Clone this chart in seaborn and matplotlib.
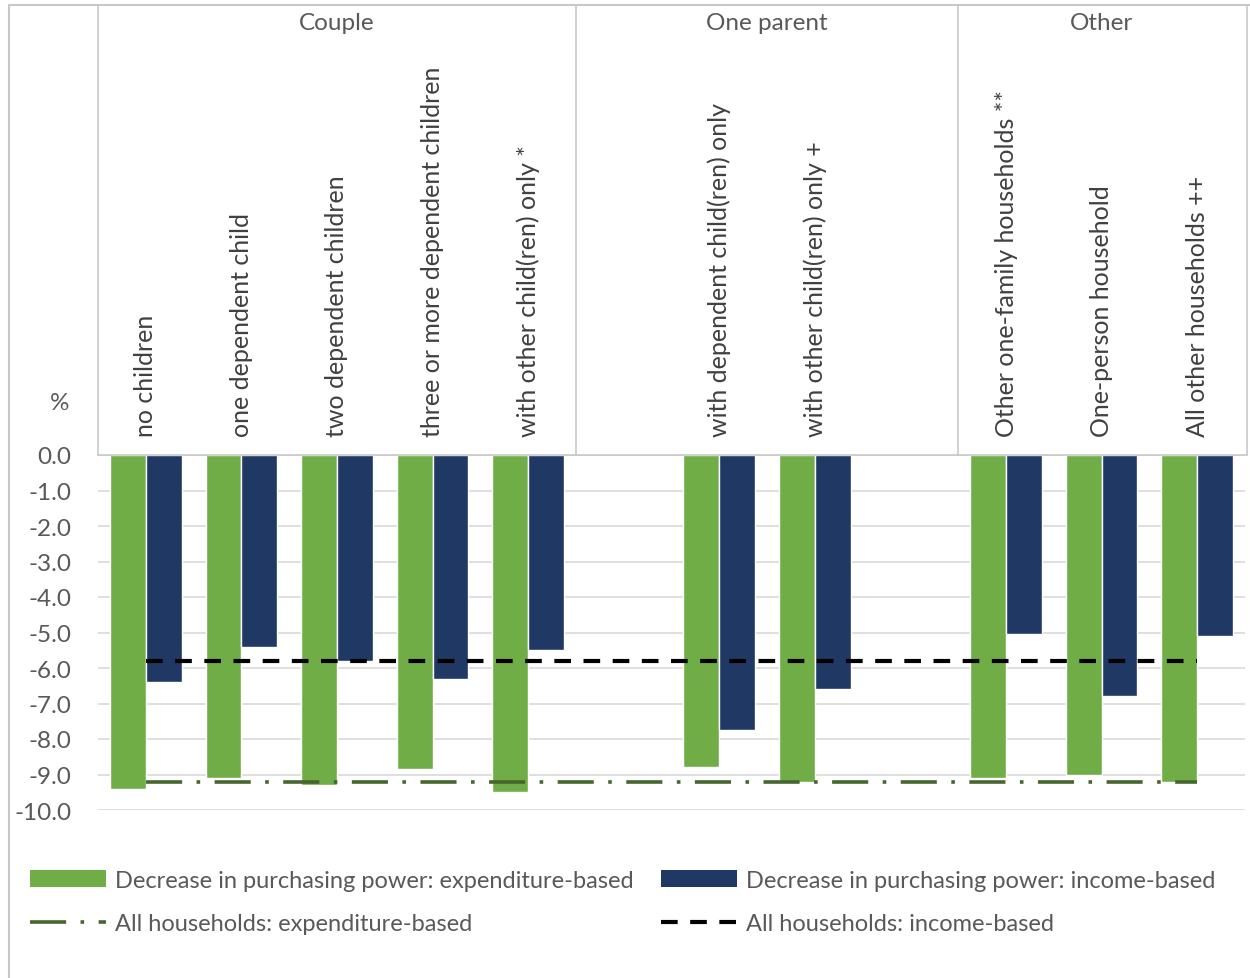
import numpy as np
import pandas as pd
import matplotlib
matplotlib.use("Agg")
import matplotlib.pyplot as plt
import seaborn as sns
from matplotlib.patches import Patch
from matplotlib.lines import Line2D
from matplotlib.transforms import blended_transform_factory

# ---- data -------------------------------------------------------------
categories = [
    "no children", "one dependent child", "two dependent children",
    "three or more dependent children", "with other child(ren) only *",
    "with dependent child(ren) only", "with other child(ren) only +",
    "Other one-family households **", "One-person household",
    "All other households ++",
]
groups = ["Couple"] * 5 + ["One parent"] * 2 + ["Other"] * 3
expenditure_based = [-9.4, -9.1, -9.3, -8.85, -9.5, -8.8, -9.2, -9.1, -9.0, -9.2]
income_based = [-6.4, -5.4, -5.8, -6.3, -5.5, -7.75, -6.6, -5.05, -6.8, -5.1]
all_households_expenditure = -9.2
all_households_income = -5.8

label_exp = "Decrease in purchasing power: expenditure-based"
label_inc = "Decrease in purchasing power: income-based"
label_all_exp = "All households: expenditure-based"
label_all_inc = "All households: income-based"

GREEN = "#70ad47"
NAVY = "#203864"
DARK_GREEN = "#46662f"
GRID = "#d9d9d9"
FRAME = "#c8c8c8"
TICK = "#595959"
TEXT = "#404040"

# slot order: blank spacers separate the household groups
order = categories[:5] + [" "] + categories[5:7] + ["  "] + categories[7:]
group_spans = [("Couple", -0.5, 4.5), ("One parent", 4.5, 8.5), ("Other", 8.5, 11.5)]

df = pd.DataFrame({
    "category": categories * 2,
    "value": expenditure_based + income_based,
    "measure": [label_exp] * len(categories) + [label_inc] * len(categories),
})

# ---- figure -----------------------------------------------------------
sns.set_style("white")
plt.rcParams["font.family"] = ["Lato", "DejaVu Sans"]
plt.rcParams["axes.unicode_minus"] = False

W, H = 1250, 979
fig = plt.figure(figsize=(W / 100, H / 100), dpi=100)
left, right = 98 / W, 1245 / W
bottom, top = 1 - 811 / H, 1 - 456 / H
ax = fig.add_axes([left, bottom, right - left, top - bottom])

sns.barplot(
    data=df, x="category", y="value", hue="measure", order=order,
    hue_order=[label_exp, label_inc], palette=[GREEN, NAVY],
    width=0.75, gap=0, saturation=1, errorbar=None, legend=False, ax=ax,
    zorder=2,
)

# reference lines for all households
x_first, x_last = 0, len(order) - 1
ax.hlines(all_households_income, x_first, x_last, colors="black",
          linestyles=(0, (4, 3)), linewidth=3, zorder=3)
ax.hlines(all_households_expenditure, x_first, x_last, colors=DARK_GREEN,
          linestyles=(0, (10, 4, 1, 4)), linewidth=2.6, zorder=3)

ax.set_xlim(-0.5, len(order) - 0.5)
ax.set_ylim(-10, 0)
yt = list(range(-10, 1))
ax.set_yticks(yt)
ax.set_yticklabels([f"{v:.1f}" for v in yt], fontsize=17.5, color=TICK)
ax.tick_params(axis="y", length=0, pad=19)
ax.set_xticks([])
ax.set_xlabel("")
ax.set_ylabel("")
ax.yaxis.grid(True, color=GRID, linewidth=1.2)
ax.set_axisbelow(True)
for s in ax.spines.values():
    s.set_visible(False)

# ---- header with group and category labels ----------------------------
tr = blended_transform_factory(ax.transData, fig.transFigure)
head_top = 1 - 6 / H
for x in [-0.5, 4.5, 8.5, 11.52]:
    ax.add_line(Line2D([x, x], [top, head_top], transform=tr, color=FRAME,
                       linewidth=1.2, clip_on=False))
ax.add_line(Line2D([-0.5, 11.52], [top, top], transform=tr, color=FRAME,
                   linewidth=1.2, clip_on=False))

for name, x0, x1 in group_spans:
    ax.text((x0 + x1) / 2, 1 - 23 / H, name, transform=tr, ha="center",
            va="center", fontsize=17.5, color=TICK)

for cat in categories:
    ax.text(order.index(cat), 1 - 437 / H, cat, transform=tr, rotation=90,
            ha="center", va="bottom", fontsize=18, color=TEXT)

fig.text(60 / W, 1 - 403 / H, "%", ha="center", va="center", fontsize=17.5,
         color=TICK)

# outer frame (top and left edges)
fig.add_artist(Line2D([9 / W, 1.0], [1 - 6 / H, 1 - 6 / H],
                      transform=fig.transFigure, color=FRAME, linewidth=1.5))
fig.add_artist(Line2D([9 / W, 9 / W], [0, 1 - 6 / H],
                      transform=fig.transFigure, color=FRAME, linewidth=1.5))

# ---- legend -----------------------------------------------------------
leg_kw = dict(frameon=False, loc="upper left", borderpad=0, borderaxespad=0,
              handlelength=3.2, handletextpad=0.42, labelspacing=0.95,
              fontsize=17, labelcolor=TICK)
h_exp = [Patch(facecolor=GREEN, edgecolor="none"),
         Line2D([], [], color=DARK_GREEN, linewidth=2.6,
                linestyle=(0, (10, 4, 1, 4)))]
h_inc = [Patch(facecolor=NAVY, edgecolor="none"),
         Line2D([], [], color="black", linewidth=3, linestyle=(0, (4, 3)))]
fig.legend(h_exp, [label_exp, label_all_exp],
           bbox_to_anchor=(30 / W, 1 - 871 / H), **leg_kw)
fig.legend(h_inc, [label_inc, label_all_inc],
           bbox_to_anchor=(661 / W, 1 - 871 / H), **leg_kw)

fig.savefig("out.png", dpi=100, facecolor="white")
